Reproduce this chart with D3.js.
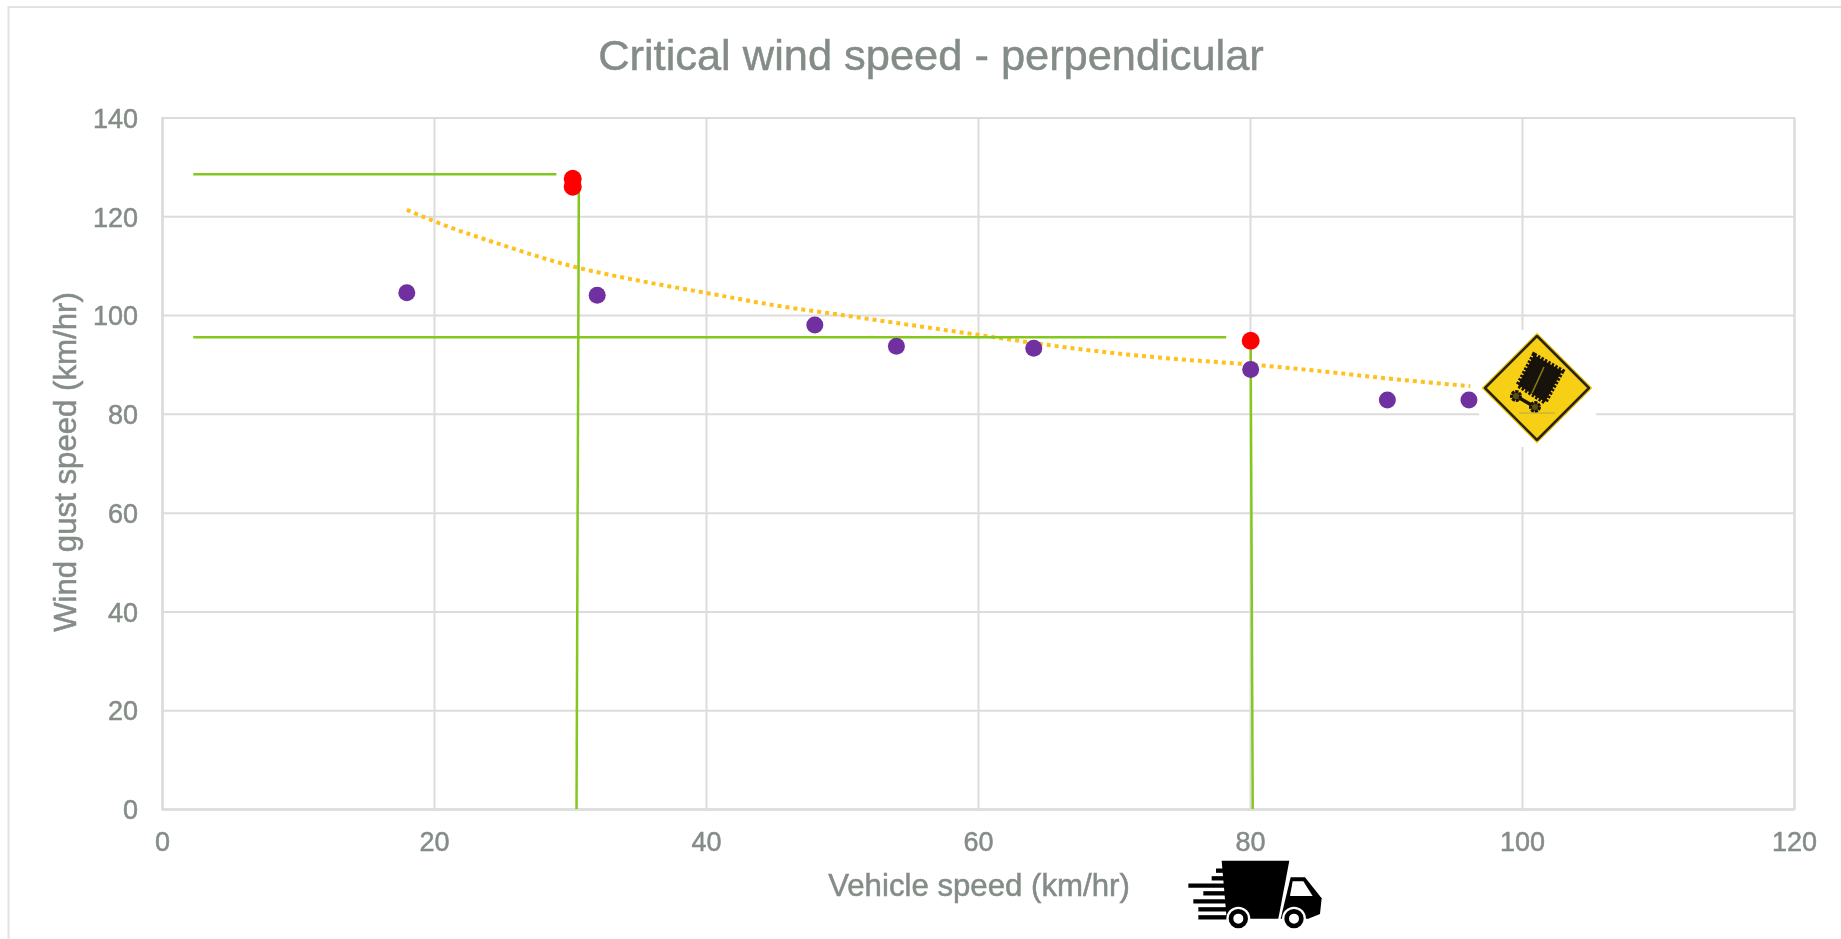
<!DOCTYPE html>
<html>
<head>
<meta charset="utf-8">
<script src="https://cdn.jsdelivr.net/npm/d3@7"></script>
<style>
html, body { margin: 0; padding: 0; background: #fff; overflow: hidden; }
svg { display: block; font-family: "Liberation Sans", Arial, sans-serif; filter: blur(0.5px); }
</style>
</head>
<body>
<div id="chart"></div>
<script>
// chart values
var xTicks = [0, 20, 40, 60, 80, 100, 120];
var yTicks = [0, 20, 40, 60, 80, 100, 120, 140];

var measuredX = [18, 32, 48, 54, 64.1, 80.05, 90.1, 96.1];
var measuredY = [104.5, 104, 98, 93.7, 93.3, 89, 82.8, 82.8];

var criticalX = [30.2, 30.2, 80.05];
var criticalY = [127.6, 126, 94.8];

var trendX = [18, 20, 25, 30, 35, 40, 45, 50, 55, 60, 65, 70, 75, 80, 85, 90, 96.2];
var trendY = [121.3, 119, 114.2, 110, 107, 104.5, 102, 100, 98, 96, 94, 92.3, 91, 90, 88.7, 87.2, 85.6];

// green guide lines as [x1, y1, x2, y2] in chart units
var guideLines = [
  [2.3, 128.5, 29, 128.5],
  [2.3, 95.5, 78.25, 95.5],
  [30.65, 126, 30.48, 0],
  [80.05, 93, 80.2, 0]
];

var titleText = "Critical wind speed - perpendicular";
var xLabel = "Vehicle speed (km/hr)";
var yLabel = "Wind gust speed (km/hr)";

var width = 1841, height = 939;
var margin = {top: 117.5, right: 47, bottom: 130, left: 162};

var x = d3.scaleLinear().domain([0, 120]).range([margin.left, width - margin.right]);
var y = d3.scaleLinear().domain([0, 140]).range([height - margin.bottom, margin.top]);

var gridColor = "#dcdcdc", textColor = "#848c87";

var svg = d3.select("#chart").append("svg")
    .attr("width", width)
    .attr("height", height);

// outer chart border
svg.append("rect")
    .attr("x", 8.5).attr("y", 7)
    .attr("width", 1900).attr("height", 1000)
    .attr("fill", "#fff")
    .attr("stroke", "#e2e2e2")
    .attr("stroke-width", 2);

// grid
var xAxis = svg.append("g")
    .attr("transform", "translate(0," + y(0) + ")")
    .call(d3.axisBottom(x).tickValues(xTicks).tickSize(-(y(0) - y(140))).tickPadding(23));
var yAxis = svg.append("g")
    .attr("transform", "translate(" + x(0) + ",0)")
    .call(d3.axisLeft(y).tickValues(yTicks).tickSize(-(x(120) - x(0))).tickPadding(24));

[xAxis, yAxis].forEach(function(a) {
  a.select(".domain").attr("stroke", gridColor).attr("stroke-width", 2);
  a.selectAll(".tick line").attr("stroke", gridColor).attr("stroke-width", 2);
  a.selectAll("text")
      .attr("fill", textColor)
      .attr("stroke", textColor)
      .attr("stroke-width", 0.5)
      .style("font-size", "27px");
});
yAxis.selectAll("text").attr("dy", "0.36em");

// white box behind the road sign cuts the grid
svg.append("rect")
    .attr("x", 1479).attr("y", 330)
    .attr("width", 117).attr("height", 117)
    .attr("fill", "#fff");

// trend line
var trend = d3.line()
    .x(function(d) { return x(d[0]); })
    .y(function(d) { return y(d[1]); })
    .curve(d3.curveMonotoneX);

svg.append("path")
    .datum(d3.zip(trendX, trendY))
    .attr("d", trend)
    .attr("fill", "none")
    .attr("stroke", "#ffc11e")
    .attr("stroke-width", 4)
    .attr("stroke-dasharray", "4 4");

// guide lines
svg.selectAll(".guide")
    .data(guideLines)
  .enter().append("line")
    .attr("class", "guide")
    .attr("x1", function(d) { return x(d[0]); })
    .attr("y1", function(d) { return y(d[1]); })
    .attr("x2", function(d) { return x(d[2]); })
    .attr("y2", function(d) { return y(d[3]); })
    .attr("stroke", "#84c81f")
    .attr("stroke-width", 2.5);

// points
svg.selectAll(".measured")
    .data(d3.zip(measuredX, measuredY))
  .enter().append("circle")
    .attr("class", "measured")
    .attr("cx", function(d) { return x(d[0]); })
    .attr("cy", function(d) { return y(d[1]); })
    .attr("r", 8.5)
    .attr("fill", "#7030a0");

svg.selectAll(".critical")
    .data(d3.zip(criticalX, criticalY))
  .enter().append("circle")
    .attr("class", "critical")
    .attr("cx", function(d) { return x(d[0]); })
    .attr("cy", function(d) { return y(d[1]); })
    .attr("r", 9)
    .attr("fill", "#ff0000");

// titles
[
  {text: titleText, size: "43.4px", transform: "translate(931,70)"},
  {text: xLabel, size: "31.2px", transform: "translate(979,896)"},
  {text: yLabel, size: "31.2px", transform: "translate(76,462) rotate(-90)"}
].forEach(function(t) {
  svg.append("text")
      .attr("transform", t.transform)
      .attr("text-anchor", "middle")
      .attr("fill", textColor)
      .attr("stroke", textColor)
      .attr("stroke-width", 0.5)
      .style("font-size", t.size)
      .text(t.text);
});

// road sign
var sign = svg.append("g").attr("transform", "translate(1537,388)");
sign.append("path")
    .attr("d", "M0,-55 L55,0 L0,55 L-55,0 Z")
    .attr("fill", "#f7cf14")
    .attr("stroke", "#f7cf14")
    .attr("stroke-linejoin", "round");
sign.append("path")
    .attr("d", "M0,-52 L52,0 L0,52 L-52,0 Z")
    .attr("fill", "#f7cf14")
    .attr("stroke", "#2b2516")
    .attr("stroke-width", 2.5)
    .attr("stroke-linejoin", "round");
sign.append("path")
    .attr("d", "M-3,-33 L25,-17 L8,14 L-19,-3 Z")
    .attr("fill", "#17120c")
    .attr("stroke", "#17120c")
    .attr("stroke-width", 5)
    .attr("stroke-dasharray", "2.5 1.5");
sign.append("line")
    .attr("x1", 7).attr("y1", -21).attr("x2", -5).attr("y2", 5)
    .attr("stroke", "#8f7c12")
    .attr("stroke-width", 1.5);
sign.append("line")
    .attr("x1", -21).attr("y1", 8).attr("x2", -2).attr("y2", 19)
    .attr("stroke", "#17120c")
    .attr("stroke-width", 3.5);
[[-21, 8], [-2, 19]].forEach(function(c) {
  sign.append("circle")
      .attr("cx", c[0]).attr("cy", c[1]).attr("r", 4.5)
      .attr("fill", "#5c4f12")
      .attr("stroke", "#17120c")
      .attr("stroke-width", 3)
      .attr("stroke-dasharray", "3 1");
});
sign.append("line")
    .attr("x1", -18).attr("y1", 25).attr("x2", 18).attr("y2", 25)
    .attr("stroke", "#b5a84a")
    .attr("stroke-width", 1);

// truck icon
var truck = svg.append("g").attr("transform", "translate(1170,840) scale(0.3333)");
truck.append("path")
    .attr("d", "M155,62 L358,62 L325,236 L170,236 Z")
    .attr("fill", "#000");
truck.append("path")
    .attr("d", "M362,112 L405,112 L455,175 L450,222 L415,236 L332,236 Z")
    .attr("fill", "#000");
truck.append("path")
    .attr("d", "M368,124 L400,124 L428,168 L360,168 Z")
    .attr("fill", "#fff");
truck.selectAll(".speed")
    .data([[138, 92], [125, 115], [55, 137], [100, 160], [70, 184], [85, 208], [85, 232]])
  .enter().append("line")
    .attr("class", "speed")
    .attr("x1", function(d) { return d[0]; })
    .attr("y1", function(d) { return d[1]; })
    .attr("x2", 180)
    .attr("y2", function(d) { return d[1]; })
    .attr("stroke", "#000")
    .attr("stroke-width", 13);
[[205, 236], [372, 236]].forEach(function(c) {
  truck.append("circle")
      .attr("cx", c[0]).attr("cy", c[1]).attr("r", 36)
      .attr("fill", "#fff");
  truck.append("circle")
      .attr("cx", c[0]).attr("cy", c[1]).attr("r", 22)
      .attr("fill", "#fff")
      .attr("stroke", "#000")
      .attr("stroke-width", 14);
});
</script>
</body>
</html>
